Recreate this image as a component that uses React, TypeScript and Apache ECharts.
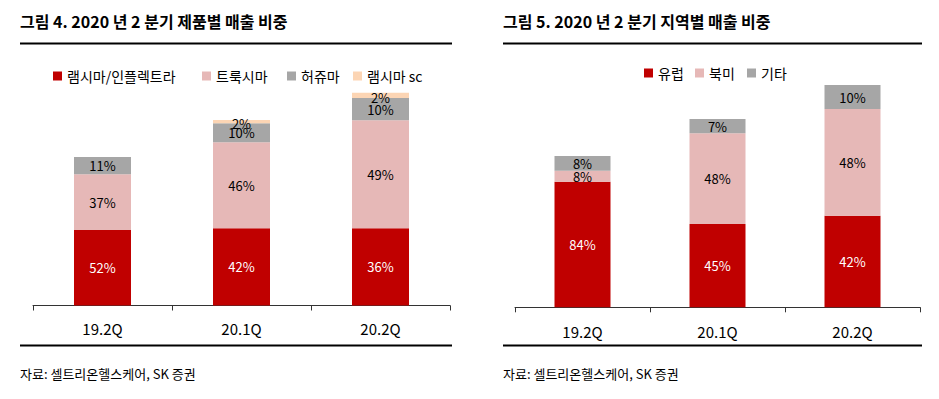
import React, { useEffect, useRef } from "react";
import * as echarts from "echarts";

// Categories
const categories = ["19.2Q", "20.1Q", "20.2Q"];

// Left chart (product mix) – segment sizes (relative sales units)
const remsimaVals = [75.5, 77.2, 77.2];
const truximaVals = [55.7, 86, 108];
const herzumaVals = [17.3, 19, 22.3];
const remsimaScVals = [0, 3.3, 5.3];
// Left chart – share labels (%)
const remsimaPct = [52, 42, 36];
const truximaPct = [37, 46, 49];
const herzumaPct = [11, 10, 10];
const remsimaScPct: (number | null)[] = [null, 2, 2];

// Right chart (region mix) – segment sizes
const europeVals = [125.6, 83.3, 91.6];
const naVals = [11, 90.7, 106.7];
const otherVals = [14.7, 14.3, 24];
// Right chart – share labels (%)
const europePct = [84, 45, 42];
const naPct = [8, 48, 48];
const otherPct = [8, 7, 10];

const FONT = "'Noto Sans CJK KR', 'Noto Sans', sans-serif";
const RED = "#C00000";
const PINK = "#E6B8B7";
const GRAY = "#A6A6A6";
const PEACH = "#FCD5B4";

function makeSeries(
  name: string,
  vals: number[],
  pcts: (number | null)[],
  color: string,
  labelColor: string,
  xi: number,
  barWidth: number,
  offset: number[] = [0, 0]
) {
  return {
    name,
    type: "bar",
    stack: "s" + xi,
    xAxisIndex: xi,
    yAxisIndex: xi,
    barWidth,
    data: vals,
    itemStyle: { color },
    label: {
      show: true,
      position: "inside",
      offset,
      color: labelColor,
      fontFamily: FONT,
      fontSize: 13,
      formatter: (p: any) => {
        const v = pcts[p.dataIndex];
        return v == null ? "" : v + "%";
      },
    },
  };
}

function legendItem(name: string, left: number, top: number) {
  return {
    data: [name],
    left,
    top,
    padding: 0,
    itemWidth: 9,
    itemHeight: 9,
    itemGap: 0,
    icon: "rect",
    textStyle: { fontFamily: FONT, fontSize: 14, color: "#000", lineHeight: 14 },
  };
}

export default function App() {
  const ref = useRef<HTMLDivElement>(null);
  useEffect(() => {
    if (!ref.current) return;
    const chart = echarts.init(ref.current, undefined, { renderer: "svg" });
    const axisCommon = {
      type: "category",
      data: categories,
      axisLine: { lineStyle: { color: "#333", width: 1 } },
      axisTick: { show: true, length: 5, lineStyle: { color: "#333" } },
      splitLine: { show: false },
    };
    chart.setOption({
      animation: false,
      grid: [
        { left: 33, width: 417, top: 60, bottom: 93.5 },
        { left: 515, width: 405, top: 60, bottom: 91.7 },
      ],
      xAxis: [
        {
          ...axisCommon,
          gridIndex: 0,
          axisLabel: { color: "#000", fontFamily: FONT, fontSize: 15, margin: 15 },
        },
        {
          ...axisCommon,
          gridIndex: 1,
          axisLabel: { color: "#000", fontFamily: FONT, fontSize: 15, margin: 17 },
        },
      ],
      yAxis: [
        { type: "value", gridIndex: 0, min: 0, max: 245.5, show: false, splitLine: { show: false } },
        { type: "value", gridIndex: 1, min: 0, max: 247.3, show: false, splitLine: { show: false } },
      ],
      legend: [
        legendItem("램시마/인플렉트라", 53, 69),
        legendItem("트룩시마", 202, 69),
        legendItem("허쥬마", 287, 69),
        legendItem("램시마 sc", 353, 69),
        legendItem("유럽", 644, 66),
        legendItem("북미", 695, 66),
        legendItem("기타", 747, 66),
      ],
      series: [
        makeSeries("램시마/인플렉트라", remsimaVals, remsimaPct, RED, "#fff", 0, 57),
        makeSeries("트룩시마", truximaVals, truximaPct, PINK, "#000", 0, 57),
        makeSeries("허쥬마", herzumaVals, herzumaPct, GRAY, "#000", 0, 57),
        makeSeries("램시마 sc", remsimaScVals, remsimaScPct, PEACH, "#000", 0, 57, [0, 2]),
        makeSeries("유럽", europeVals, europePct, RED, "#fff", 1, 56),
        makeSeries("북미", naVals, naPct, PINK, "#000", 1, 56),
        makeSeries("기타", otherVals, otherPct, GRAY, "#000", 1, 56),
      ],
      graphic: [
        {
          type: "text",
          x: 20,
          y: 21,
          style: {
            text: "그림 4. 2020 년 2 분기 제품별 매출 비중",
            fontFamily: FONT,
            fontSize: 16,
            fontWeight: "bold",
            fill: "#000",
            verticalAlign: "middle",
          },
        },
        {
          type: "text",
          x: 503,
          y: 21,
          style: {
            text: "그림 5. 2020 년 2 분기 지역별 매출 비중",
            fontFamily: FONT,
            fontSize: 16,
            fontWeight: "bold",
            fill: "#000",
            verticalAlign: "middle",
          },
        },
        { type: "line", shape: { x1: 20, y1: 43.5, x2: 452, y2: 43.5 }, style: { stroke: "#000", lineWidth: 2 } },
        { type: "line", shape: { x1: 503, y1: 43.5, x2: 922, y2: 43.5 }, style: { stroke: "#000", lineWidth: 2 } },
        { type: "line", shape: { x1: 20, y1: 345.5, x2: 452, y2: 345.5 }, style: { stroke: "#000", lineWidth: 2 } },
        { type: "line", shape: { x1: 503, y1: 345.5, x2: 922, y2: 345.5 }, style: { stroke: "#000", lineWidth: 2 } },
        {
          type: "text",
          x: 20,
          y: 373,
          style: {
            text: "자료: 셀트리온헬스케어, SK 증권",
            fontFamily: FONT,
            fontSize: 13,
            fill: "#000",
            verticalAlign: "middle",
          },
        },
        {
          type: "text",
          x: 503,
          y: 373,
          style: {
            text: "자료: 셀트리온헬스케어, SK 증권",
            fontFamily: FONT,
            fontSize: 13,
            fill: "#000",
            verticalAlign: "middle",
          },
        },
      ],
    });
    return () => chart.dispose();
  }, []);
  return (
    <div
      ref={ref}
      style={{ position: "fixed", left: 0, top: 0, width: 939, height: 399, background: "#fff" }}
    />
  );
}
